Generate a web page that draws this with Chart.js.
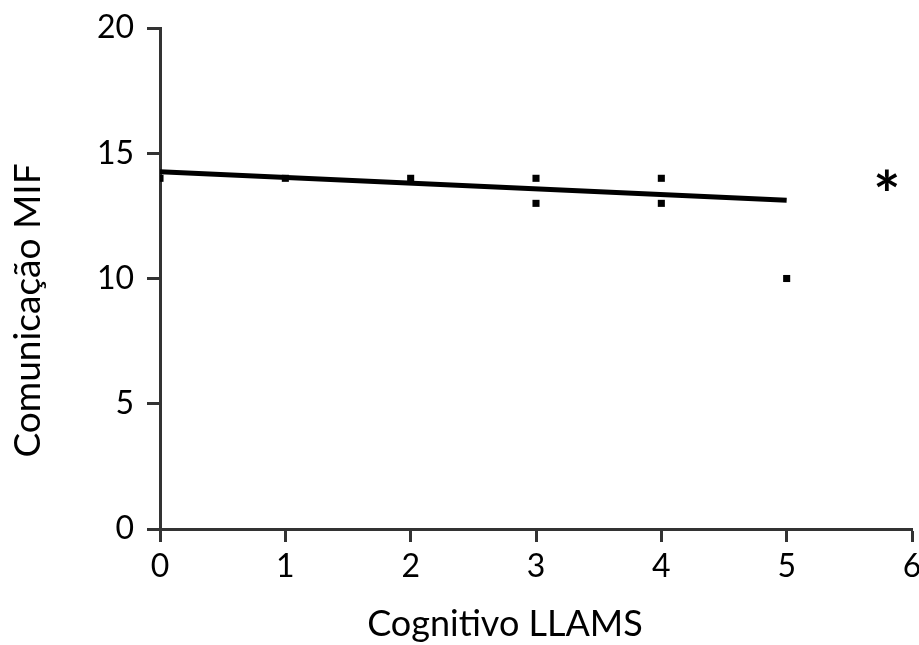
<!DOCTYPE html>
<html>
<head>
<meta charset="utf-8">
<script src="https://cdn.jsdelivr.net/npm/chart.js@4/dist/chart.umd.min.js"></script>
<style>
  body { margin: 0; background: #fff; }
  #wrap { width: 919px; height: 645px; }
</style>
</head>
<body>
<div id="wrap"><canvas id="scatterChart" width="919" height="645"></canvas></div>
<script>
// observed points
var cognitivo = [0, 1, 2, 3, 3, 4, 4, 5];
var comunicacao = [14, 14, 14, 14, 13, 14, 13, 10];

// fitted regression line (ends)
var fitX = [0, 5];
var fitY = [14.26, 13.12];

var xTicks = [0, 1, 2, 3, 4, 5, 6];
var yTicks = [0, 5, 10, 15, 20];

var xTitle = 'Cognitivo LLAMS';
var yTitle = 'Comunicação MIF';

// significance marker
var markText = '*';
var markX = 5.8;
var markY = 13.7;

var fontFamily = 'Lato, "Open Sans", sans-serif';
var axisColor = '#333333';

var points = cognitivo.map(function (x, i) { return { x: x, y: comunicacao[i] }; });
var fitLine = fitX.map(function (x, i) { return { x: x, y: fitY[i] }; });

// axis titles sit a little off-centre in the original, so they are drawn here
var textPlugin = {
  id: 'textPlugin',
  afterDraw: function (chart) {
    var c = chart.ctx;
    var area = chart.chartArea;
    c.save();
    c.fillStyle = '#000';
    c.textAlign = 'center';
    c.textBaseline = 'middle';

    c.font = '36px ' + fontFamily;
    c.fillText(xTitle, (area.left + area.right) / 2 - 31, 624);

    c.save();
    c.translate(28, (area.top + area.bottom) / 2 + 32);
    c.rotate(-Math.PI / 2);
    c.font = '37px ' + fontFamily;
    c.fillText(yTitle, 0, 0);
    c.restore();

    var px = chart.scales.x.getPixelForValue(markX);
    var py = chart.scales.y.getPixelForValue(markY);
    c.font = 'bold 64px ' + fontFamily;
    c.fillText(markText, px, py + 12);
    c.restore();
  }
};

var ctx = document.getElementById('scatterChart').getContext('2d');
var chart = new Chart(ctx, {
  type: 'scatter',
  data: {
    datasets: [{
      label: 'Ajuste',
      type: 'line',
      data: fitLine,
      borderColor: '#000',
      borderWidth: 5,
      pointRadius: 0,
      fill: false,
      order: 2
    }, {
      label: 'Pacientes',
      data: points,
      backgroundColor: '#000',
      borderColor: '#000',
      pointStyle: 'rect',
      pointRadius: 5,
      borderWidth: 0,
      order: 1
    }]
  },
  options: {
    responsive: false,
    animation: false,
    layout: { padding: { top: 28, right: 7, left: 0, bottom: 0 } },
    plugins: {
      legend: { display: false },
      tooltip: { enabled: false }
    },
    scales: {
      x: {
        type: 'linear',
        min: 0,
        max: 6,
        afterBuildTicks: function (scale) {
          scale.ticks = xTicks.map(function (v) { return { value: v }; });
        },
        afterFit: function (scale) {
          scale.height = 116;
          scale.paddingLeft = 0;
          scale.paddingRight = 0;
        },
        border: { display: true, color: axisColor, width: 3 },
        grid: {
          drawOnChartArea: false,
          drawTicks: true,
          tickLength: 13,
          tickColor: axisColor,
          tickWidth: 3
        },
        ticks: {
          color: '#000',
          padding: 5,
          font: { family: fontFamily, size: 32 }
        }
      },
      y: {
        type: 'linear',
        min: 0,
        max: 20,
        afterBuildTicks: function (scale) {
          scale.ticks = yTicks.map(function (v) { return { value: v }; });
        },
        afterFit: function (scale) {
          scale.width = 160;
          scale.paddingTop = 0;
          scale.paddingBottom = 0;
        },
        border: { display: true, color: axisColor, width: 3 },
        grid: {
          drawOnChartArea: false,
          drawTicks: true,
          tickLength: 13,
          tickColor: axisColor,
          tickWidth: 3
        },
        ticks: {
          color: '#000',
          padding: 13,
          font: { family: fontFamily, size: 32 }
        }
      }
    }
  },
  plugins: [textPlugin]
});
</script>
</body>
</html>
